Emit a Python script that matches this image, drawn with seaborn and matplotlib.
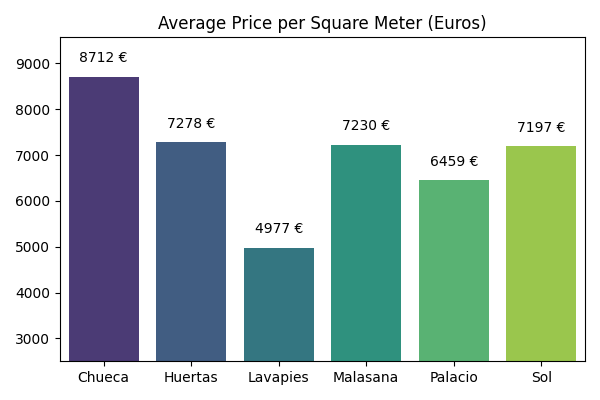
import matplotlib
matplotlib.use("Agg")
import matplotlib.pyplot as plt
import pandas as pd
import seaborn as sns

neighborhoods = ["Chueca", "Huertas", "Lavapies", "Malasana", "Palacio", "Sol"]
price_per_m2 = [8712, 7278, 4977, 7230, 6459, 7197]

df = pd.DataFrame({"barrio": neighborhoods, "price": price_per_m2})

fig, ax = plt.subplots(figsize=(6, 4), dpi=100)
sns.barplot(data=df, x="barrio", y="price", hue="barrio", palette="viridis",
            legend=False, ax=ax)

for i, v in enumerate(price_per_m2):
    ax.text(i, v + 400, f"{v} €", ha="center", va="center", fontsize=10)

ax.set_ylim(2500, 9570)
ax.set_xlabel("")
ax.set_ylabel("")
ax.set_title("Average Price per Square Meter (Euros)")
fig.tight_layout()
fig.savefig("out.png")
